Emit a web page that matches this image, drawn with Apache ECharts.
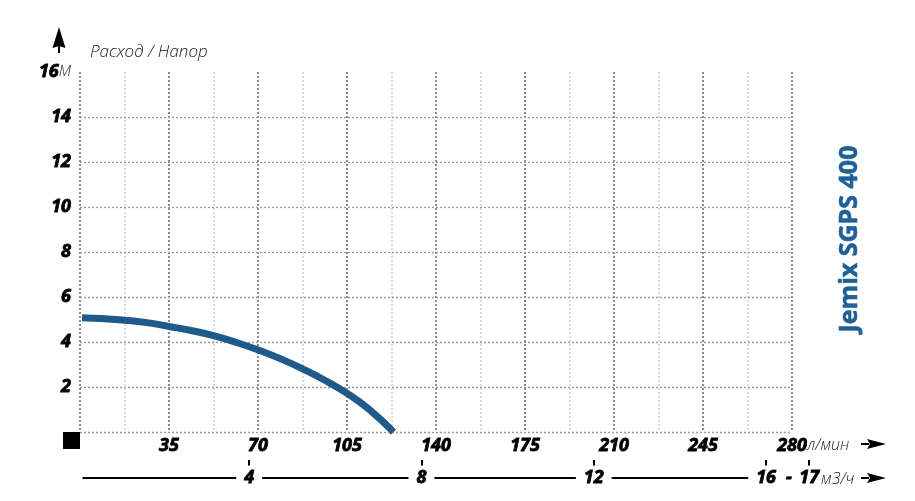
<!DOCTYPE html>
<html>
<head>
<meta charset="utf-8">
<script src="https://cdn.jsdelivr.net/npm/echarts@6/dist/echarts.min.js"></script>
<style>
  html, body { margin: 0; padding: 0; background: #fff; }
  #chart { width: 915px; height: 501px; }
</style>
</head>
<body>
<div id="chart"></div>
<script>
// ---- data ----
const flowLpm = [0.8, 8.75, 17.5, 26.25, 35, 43.75, 52.5, 61.25, 70, 78.75, 87.5, 96.25, 105, 113.75, 123.3];
const headM   = [5.08, 5.04, 4.97, 4.86, 4.69, 4.51, 4.28, 3.99, 3.65, 3.26, 2.81, 2.30, 1.72, 1.0, 0];
const headGridValues = [0, 2, 4, 6, 8, 10, 12, 14];
const m3hTicks = [4, 8, 12, 16, 17];
const flowMax = 280;
const flowStep = 35;
const headMax = 16;
const headStep = 2;
const m3hMax = 17;

const numFont = { fontFamily: 'Open Sans', fontWeight: 'bold', fontStyle: 'italic', fontSize: 18, color: '#000', textBorderColor: '#000', textBorderWidth: 0.8 };

const chart = echarts.init(document.getElementById('chart'), null, { renderer: 'canvas' });

chart.setOption({
  animation: false,
  backgroundColor: '#fff',
  grid: [
    { left: 80, top: 72, width: 712, height: 360 },
    { left: 76.8, top: 470, width: 732.4, height: 8 }
  ],
  xAxis: [
    {
      type: 'value', gridIndex: 0, min: 0, max: flowMax, interval: flowStep,
      axisLine: { show: false }, axisTick: { show: false },
      axisLabel: Object.assign({ margin: 5, formatter: v => v === 0 ? '' : String(v) }, numFont),
      splitLine: { show: true, lineStyle: { color: '#8a8a8a', width: 2, type: [2, 2] } },
      minorTick: { show: false, splitNumber: 2 },
      minorSplitLine: { show: true, lineStyle: { color: '#cfcfcf', width: 1.5, type: [2, 2] } }
    },
    {
      type: 'value', gridIndex: 1, min: 0, max: m3hMax, interval: 1,
      axisLine: { show: true, lineStyle: { color: '#000', width: 2 } },
      axisTick: { show: true, customValues: m3hTicks, inside: true, length: 18, lineStyle: { color: '#000', width: 2 } },
      axisLabel: Object.assign({
        customValues: m3hTicks, margin: 0, verticalAlign: 'middle', lineHeight: 17,
        backgroundColor: '#fff', padding: [4, 8]
      }, numFont),
      splitLine: { show: false }
    }
  ],
  yAxis: [
    {
      type: 'value', gridIndex: 0, min: 0, max: headMax, interval: headStep,
      axisLine: { show: false }, axisTick: { show: false }, splitLine: { show: false },
      axisLabel: {
        margin: 9,
        formatter: v => v === 0 ? '' : (v === headMax ? '{b|' + v + '}{u|М}' : '{b|' + v + '}'),
        rich: {
          b: numFont,
          u: { fontFamily: 'Open Sans', fontWeight: 300, fontStyle: 'italic', fontSize: 15, color: '#222' }
        }
      }
    },
    { type: 'value', gridIndex: 1, min: 0, max: 1, show: false }
  ],
  series: [
    {
      type: 'line', xAxisIndex: 0, yAxisIndex: 0,
      data: flowLpm.map((x, i) => [x, headM[i]]),
      smooth: 0.5, showSymbol: false, symbol: 'none',
      lineStyle: { color: '#1f5a8a', width: 7, cap: 'butt' },
      z: 5,
      markLine: {
        silent: true, symbol: ['none', 'none'], label: { show: false },
        lineStyle: { color: '#9a9a9a', width: 1.3, type: [2, 2] },
        emphasis: { disabled: true },
        data: headGridValues.map(v => ({ yAxis: v }))
      }
    }
  ],
  graphic: [
    // up arrow
    { type: 'polygon', z: 100, shape: { points: [[59, 27], [52.5, 48], [59, 46], [65.5, 48]] }, style: { fill: '#000' } },
    { type: 'rect', z: 100, shape: { x: 58, y: 44, width: 2, height: 9 }, style: { fill: '#000' } },
    { type: 'text', z: 100, x: 90, y: 52, style: { text: 'Расход / Напор', fontFamily: 'Open Sans', fontWeight: 300, fontStyle: 'italic', fontSize: 17, fill: '#222', verticalAlign: 'middle' } },
    // black square at origin
    { type: 'rect', z: 100, shape: { x: 63, y: 432, width: 17, height: 17 }, style: { fill: '#000' } },
    // mask the start of the m3/h line so it begins at the grid edge like the reference
    { type: 'rect', z: 100, shape: { x: 70, y: 474, width: 12.5, height: 8 }, style: { fill: '#fff' } },
    // units
    { type: 'text', z: 100, x: 807, y: 445, style: { text: 'л/мин', fontFamily: 'Open Sans', fontWeight: 300, fontStyle: 'italic', fontSize: 16, fill: '#222', verticalAlign: 'middle' } },
    { type: 'text', z: 100, x: 821, y: 479, style: { text: 'м3/ч', fontFamily: 'Open Sans', fontWeight: 300, fontStyle: 'italic', fontSize: 16, fill: '#222', verticalAlign: 'middle' } },
    { type: 'text', z: 100, x: 789, y: 478, style: { text: '-', fontFamily: 'Open Sans', fontWeight: 'bold', fontStyle: 'italic', fontSize: 18, fill: '#000', stroke: '#000', lineWidth: 0.8, align: 'center', verticalAlign: 'middle', backgroundColor: '#fff', padding: [4, 6] } },
    // right arrows
    { type: 'polygon', z: 100, shape: { points: [[867, 439], [886, 444], [867, 449], [870, 444]] }, style: { fill: '#000' } },
    { type: 'rect', z: 100, shape: { x: 861, y: 443, width: 8, height: 2 }, style: { fill: '#000' } },
    { type: 'polygon', z: 100, shape: { points: [[867, 473], [886, 478], [867, 483], [870, 478]] }, style: { fill: '#000' } },
    { type: 'rect', z: 100, shape: { x: 861, y: 477, width: 8, height: 2 }, style: { fill: '#000' } },
    // title
    { type: 'text', z: 100, x: 850, y: 239, rotation: Math.PI / 2, style: { text: 'Jemix SGPS 400', fontFamily: 'Open Sans', fontWeight: 'bold', fontSize: 25, fill: '#1f6197', stroke: '#1f6197', lineWidth: 0.6, align: 'center', verticalAlign: 'middle' } }
  ]
});
</script>
</body>
</html>
